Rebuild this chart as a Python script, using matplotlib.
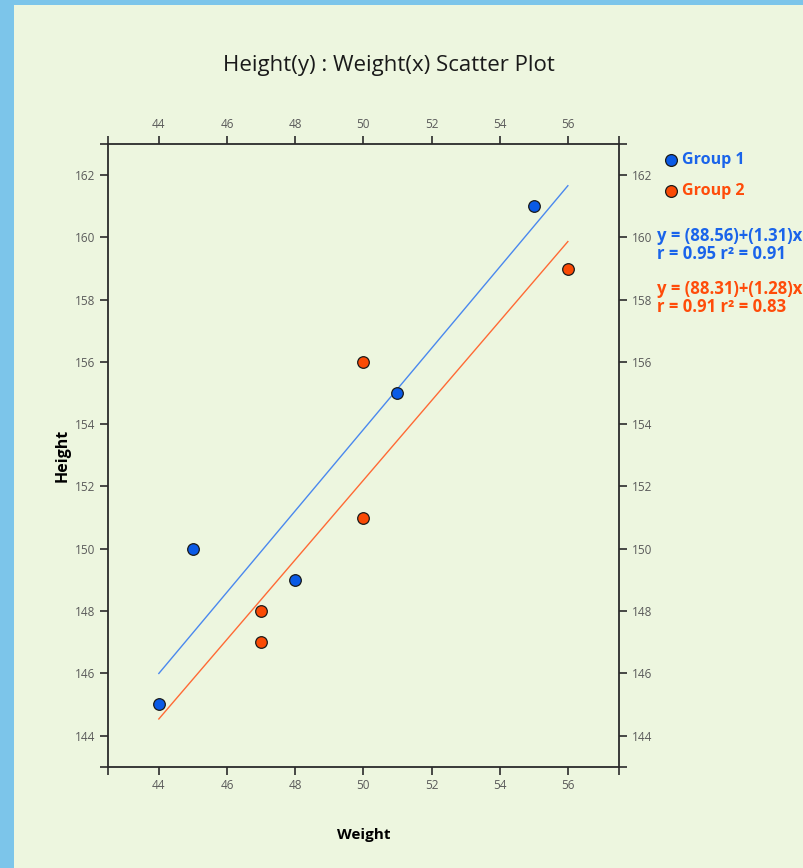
import numpy as np
import matplotlib
matplotlib.use("Agg")
import matplotlib.pyplot as plt
from matplotlib.patches import Rectangle
from matplotlib.lines import Line2D

plt.rcParams['font.family'] = ['Open Sans', 'DejaVu Sans']

# Data
g1_weight = [44, 45, 48, 51, 55]
g1_height = [145, 150, 149, 155, 161]
g2_weight = [47, 47, 50, 50, 56]
g2_height = [148, 147, 156, 151, 159]
group_names = ["Group 1", "Group 2"]
x_ticks = [44, 46, 48, 50, 52, 54, 56]
y_ticks = [144, 146, 148, 150, 152, 154, 156, 158, 160, 162]
title = "Height(y) : Weight(x) Scatter Plot"

BLUE_PT = "#0a5ae6"
ORANGE_PT = "#fa4a05"
BLUE_LN = "#4a88ee"
ORANGE_LN = "#ff6a35"
BLUE_TX = "#1a64ea"
ORANGE_TX = "#ff4c0a"

fig = plt.figure(figsize=(8.04, 8.68), dpi=100)
fig.patch.set_facecolor("#7cc5ea")
fig.add_artist(Rectangle((14/804, 0), 1, 1 - 5/868, transform=fig.transFigure,
                         facecolor="#edf6df", edgecolor="none", zorder=0))

ax = fig.add_axes([107.7/804, 1 - 766.7/868, (619 - 107.7)/804, (766.7 - 144)/868])
ax.set_facecolor("none")
ax.set_xlim(42.5, 57.5)
ax.set_ylim(143.0, 163.0)

allx = np.array(g1_weight + g2_weight)
xr = np.array([allx.min(), allx.max()])
for xs, ys, lc in [(g1_weight, g1_height, BLUE_LN), (g2_weight, g2_height, ORANGE_LN)]:
    b, a = np.polyfit(xs, ys, 1)
    ax.plot(xr, a + b * xr, color=lc, lw=1.0, zorder=2)

ax.scatter(g1_weight, g1_height, s=70, color=BLUE_PT, edgecolor="#1a1a1a", lw=0.9, zorder=3)
ax.scatter(g2_weight, g2_height, s=70, color=ORANGE_PT, edgecolor="#1a1a1a", lw=0.9, zorder=3)

for s in ax.spines.values():
    s.set_color("#2b2b2b")
    s.set_linewidth(1.3)

ax.set_xticks(x_ticks)
ax.set_yticks(y_ticks)
ax.set_xticks([42.5, 57.5], minor=True)
ax.set_yticks([143.0, 163.0], minor=True)
ax.tick_params(which="both", direction="out", length=6, width=1.2, color="#2b2b2b",
               top=True, right=True, labeltop=True, labelright=True,
               labelsize=8.5, labelcolor="#5a5a5a", pad=3)
ax.tick_params(which="minor", labeltop=False, labelbottom=False, labelleft=False, labelright=False)

ax.set_xlabel("Weight", fontsize=11, fontweight="bold", labelpad=26)
ax.set_ylabel("Height", fontsize=11.5, fontweight="bold", labelpad=3)

fig.text(389/804, 1 - 66/868, title, ha="center", va="center", fontsize=16, color="#1a1a1a")

# legend
fig.add_artist(Line2D([671/804], [1 - 160/868], marker="o", markersize=8.5, color=BLUE_PT,
                      markeredgecolor="#1a1a1a", markeredgewidth=0.9, transform=fig.transFigure))
fig.add_artist(Line2D([671/804], [1 - 191/868], marker="o", markersize=8.5, color=ORANGE_PT,
                      markeredgecolor="#1a1a1a", markeredgewidth=0.9, transform=fig.transFigure))
fig.text(682/804, 1 - 160/868, group_names[0], ha="left", va="center", fontsize=11.5,
         fontweight="bold", color=BLUE_TX)
fig.text(682/804, 1 - 191/868, group_names[1], ha="left", va="center", fontsize=11.5,
         fontweight="bold", color=ORANGE_TX)

eq_y = [245, 298]
for (xs, ys, tc), yy in zip([(g1_weight, g1_height, BLUE_TX), (g2_weight, g2_height, ORANGE_TX)], eq_y):
    b, a = np.polyfit(xs, ys, 1)
    r = np.corrcoef(xs, ys)[0, 1]
    fig.text(657/804, 1 - yy/868,
             f"y = ({a:.2f})+({b:.2f})x\nr = {r:.2f} r\u00b2 = {r*r:.2f}",
             ha="left", va="center", linespacing=0.95,
             fontsize=12, fontweight="bold", color=tc)

fig.savefig("out.png", dpi=100, facecolor=fig.get_facecolor())
